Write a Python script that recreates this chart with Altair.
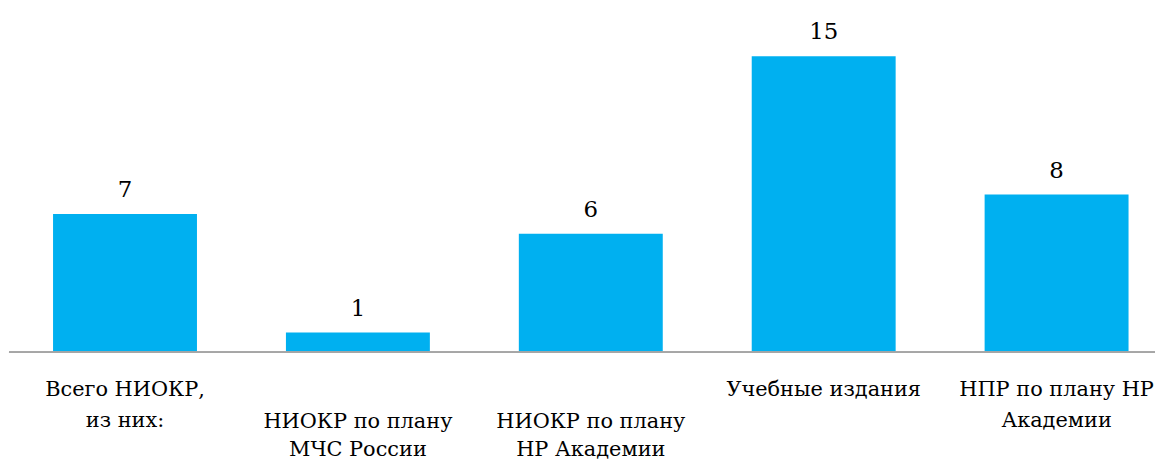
import altair as alt
import pandas as pd

categories = ["Всего НИОКР,\nиз них:", "НИОКР по плану\nМЧС России", "НИОКР по плану\nНР Академии",
              "Учебные издания", "НПР по плану НР\nАкадемии"]
values = [7, 1, 6, 15, 8]
lowered = ["НИОКР по плану\nМЧС России", "НИОКР по плану\nНР Академии"]

df = pd.DataFrame({"cat": categories, "val": values})
df["low"] = df["cat"].isin(lowered)

FONT = "DejaVu Serif"
FS = 21
FSV = 23

x = alt.X("cat:N", sort=categories, axis=None,
          scale=alt.Scale(paddingInner=0.382, paddingOuter=0.1535, align=0.63))
y = alt.Y("val:Q", axis=None, scale=alt.Scale(domain=[0, 17.37], nice=False, zero=True))

base = alt.Chart(df)

bars = base.mark_bar(color="#00B0F0").encode(x=x, y=y)
vals = base.mark_text(font=FONT, fontSize=FSV, dy=-17, baseline="alphabetic", color="#000000").encode(
    x=x, y=y, text="val:Q")
baseline = base.mark_rule(color="#A6A6A6", strokeWidth=1.5).encode(
    y=alt.value(345), x=alt.value(1), x2=alt.value(1155))

lab_top = base.transform_filter("!datum.low").mark_text(
    font=FONT, fontSize=FS, lineBreak="\n", lineHeight=31, baseline="alphabetic",
    color="#000000").encode(x=x, y=alt.value(389), text="cat:N")
lab_low = base.transform_filter("datum.low").mark_text(
    font=FONT, fontSize=FS, lineBreak="\n", lineHeight=29, baseline="alphabetic",
    color="#000000").encode(x=x, y=alt.value(421), text="cat:N")

chart = alt.layer(bars, baseline, vals, lab_top, lab_low).properties(
    width=1155, height=345,
    autosize=alt.AutoSizeParams(type="none"),
    padding={"left": 0, "top": 0, "right": 0, "bottom": 108},
).configure_view(stroke=None).configure_text(font=FONT)

chart.save("out.html", embed_options={"renderer": "svg", "actions": False})
